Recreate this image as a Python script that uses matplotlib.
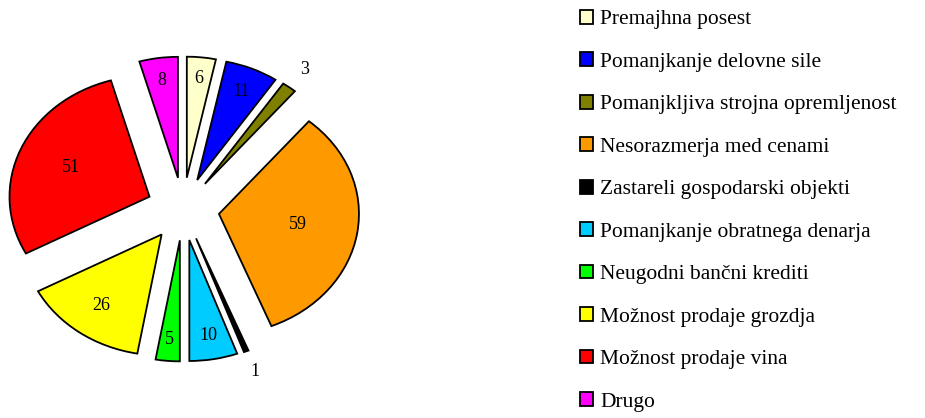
import numpy as np
import matplotlib
matplotlib.use("Agg")
import matplotlib.pyplot as plt

categories = [
    "Premajhna posest",
    "Pomanjkanje delovne sile",
    "Pomanjkljiva strojna opremljenost",
    "Nesorazmerja med cenami",
    "Zastareli gospodarski objekti",
    "Pomanjkanje obratnega denarja",
    "Neugodni bančni krediti",
    "Možnost prodaje grozdja",
    "Možnost prodaje vina",
    "Drugo",
]
values = [6, 11, 3, 59, 1, 10, 5, 26, 51, 8]
colors = ["#FFFFCC", "#0000FF", "#808000", "#FF9900", "#000000",
          "#00CCFF", "#00FF00", "#FFFF00", "#FF0000", "#FF00FF"]

plt.rcParams["font.family"] = ["Liberation Serif", "DejaVu Serif"]

fig = plt.figure(figsize=(9.25, 4.18), dpi=100)
ax = fig.add_axes([0.0011, 0.1237, 0.3935, 0.7526])

explode = [0.26] * len(values)
wedges, _ = ax.pie(values, colors=colors, startangle=90, counterclock=False,
                   explode=explode,
                   wedgeprops=dict(edgecolor="black", linewidth=1.3))
ax.set_aspect("auto")
ax.set_xlim(-1.3, 1.3)
ax.set_ylim(-1.3, 1.3)

for w, v in zip(wedges, values):
    mid = np.deg2rad((w.theta1 + w.theta2) / 2)
    if v <= 3:
        d = 1.18
    else:
        d = 0.85 - 0.0047 * v
    d += 0.26
    ax.text(d * np.cos(mid), d * np.sin(mid), str(v), ha="center", va="center",
            fontsize=13, color="black")

fig.legend(wedges, categories, loc="upper left", bbox_to_anchor=(0.627, 0.976),
           frameon=False, fontsize=15.5, handlelength=0.6, handleheight=0.6,
           handletextpad=0.33, labelspacing=1.07, borderaxespad=0, borderpad=0)

fig.savefig("out.png", dpi=100)
